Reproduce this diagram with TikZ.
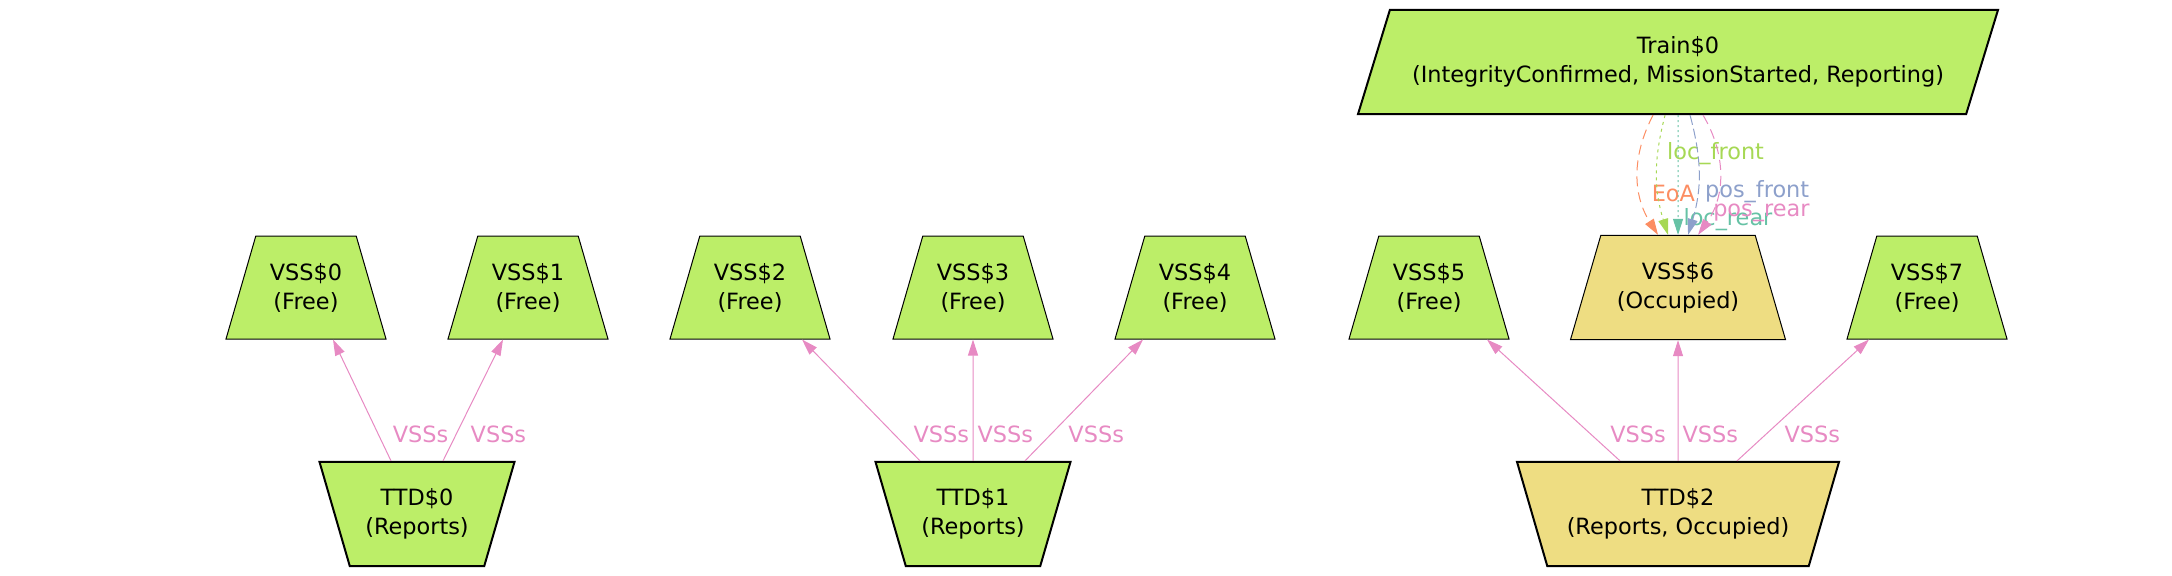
\documentclass[tikz,border=0pt]{standalone}
\usepackage{fontspec}
\setmainfont{DejaVu Sans}
\usepackage{xcolor}
\usepackage{tikz}
\usetikzlibrary{arrows.meta,shapes.geometric}
\definecolor{vssgreen}{HTML}{BCEE68}
\definecolor{occyellow}{HTML}{EEDD82}
\definecolor{eoaorange}{HTML}{FC8D62}
\definecolor{frontgreen}{HTML}{A6D854}
\definecolor{rearteal}{HTML}{66C2A5}
\definecolor{posblue}{HTML}{8DA0CB}
\definecolor{vsspink}{HTML}{E78AC3}

\begin{document}
\begin{tikzpicture}[x=0.5pt,y=-0.5pt,every node/.style={font=\fontsize{11.2}{14.5}\selectfont,align=center},vss/.style={trapezium,trapezium stretches body,trapezium left angle=73.8,trapezium right angle=73.8,draw=black,line width=0.5pt,fill=vssgreen,inner xsep=1pt,inner ysep=13.4pt,minimum width=80pt,minimum height=51.5pt},ttd/.style={vss,shape border rotate=180,line width=1pt,minimum width=97.5pt},train/.style={vss,trapezium left angle=73,trapezium right angle=107,line width=1pt,minimum width=320pt},occupied/.style={fill=occyellow},link/.style={line width=0.5pt,-{Triangle[length=8pt,width=5pt]}},lbl/.style={anchor=west,inner sep=1pt}]
\useasboundingbox (0,0) rectangle (2172,575);
\node[train] (train0) at (1678,62) {Train\$0\\(IntegrityConfirmed, MissionStarted, Reporting)};
\node[vss] (vss0) at (306,287.5) {VSS\$0\\(Free)};
\node[vss] (vss1) at (528,287.5) {VSS\$1\\(Free)};
\node[vss] (vss2) at (750,287.5) {VSS\$2\\(Free)};
\node[vss] (vss3) at (973,287.5) {VSS\$3\\(Free)};
\node[vss] (vss4) at (1195,287.5) {VSS\$4\\(Free)};
\node[vss] (vss5) at (1429,287.5) {VSS\$5\\(Free)};
\node[vss,occupied,minimum width=107.5pt] (vss6) at (1678,287.5) {VSS\$6\\(Occupied)};
\node[vss] (vss7) at (1927,287.5) {VSS\$7\\(Free)};
\node[ttd] (ttd0) at (417,514) {TTD\$0\\(Reports)};
\node[ttd] (ttd1) at (973,514) {TTD\$1\\(Reports)};
\node[ttd,occupied,minimum width=161pt] (ttd2) at (1678,514) {TTD\$2\\(Reports, Occupied)};
\draw[link,color=vsspink] ([xshift=-13pt]ttd0.north) -- node[lbl,pos=0.22,xshift=6pt] {VSSs} ([xshift=13.5pt]vss0.south);
\draw[link,color=vsspink] ([xshift=13pt]ttd0.north) -- node[lbl,pos=0.22,xshift=6pt] {VSSs} ([xshift=-12.5pt]vss1.south);
\draw[link,color=vsspink] ([xshift=-26.5pt]ttd1.north) -- node[lbl,pos=0.22,xshift=8.5pt] {VSSs} ([xshift=26pt]vss2.south);
\draw[link,color=vsspink] (ttd1.north) -- node[lbl,pos=0.22,xshift=1pt] {VSSs} (vss3.south);
\draw[link,color=vsspink] ([xshift=26pt]ttd1.north) -- node[lbl,pos=0.22,xshift=7.5pt] {VSSs} ([xshift=-26pt]vss4.south);
\draw[link,color=vsspink] ([xshift=-29pt]ttd2.north) -- node[lbl,pos=0.22,xshift=8.5pt] {VSSs} ([xshift=29pt]vss5.south);
\draw[link,color=vsspink] (ttd2.north) -- node[lbl,pos=0.22,xshift=1pt] {VSSs} (vss6.south);
\draw[link,color=vsspink] ([xshift=29.5pt]ttd2.north) -- node[lbl,pos=0.22,xshift=8pt] {VSSs} ([xshift=-29pt]vss7.south);
\draw[link,color=eoaorange,dash pattern=on 5pt off 3pt] ([xshift=-12.5pt]train0.south) to[bend right=30] node[lbl,pos=0.65,xshift=4.5pt] {EoA} ([xshift=-10pt]vss6.north);
\draw[link,color=frontgreen,dash pattern=on 1.5pt off 2pt] ([xshift=-6.5pt]train0.south) to[bend right=16] node[lbl,pos=0.31,xshift=3.5pt] {loc\_front} ([xshift=-5pt]vss6.north);
\draw[link,color=rearteal,dash pattern=on 1pt off 1.5pt] (train0.south) -- node[lbl,pos=0.87,xshift=1.5pt] {loc\_rear} (vss6.north);
\draw[link,color=posblue,dash pattern=on 5pt off 2pt] ([xshift=6pt]train0.south) to[bend left=16] node[lbl,pos=0.65,xshift=2.5pt] {pos\_front} ([xshift=5pt]vss6.north);
\draw[link,color=vsspink,dash pattern=on 5pt off 3pt] ([xshift=12.5pt]train0.south) to[bend left=33] node[lbl,pos=0.81] {pos\_rear} ([xshift=10pt]vss6.north);
\end{tikzpicture}
\end{document}
